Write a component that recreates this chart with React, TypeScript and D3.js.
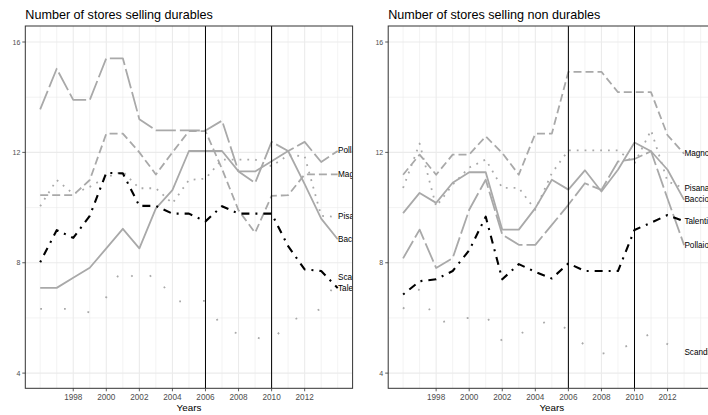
import React from "react";
import * as d3 from "d3";

// ---------- data ----------
const yearsDurables = [1996, 1997, 1998, 1999, 2000, 2001, 2002, 2003, 2004, 2005, 2006, 2007, 2008, 2009, 2010, 2011, 2012, 2013, 2014];
const yearsNonDurables = [1996, 1997, 1998, 1999, 2000, 2001, 2002, 2003, 2004, 2005, 2006, 2007, 2008, 2009, 2010, 2011, 2012, 2013];

const stores = ["Baccio", "Magnolia", "Pisana", "Pollaio", "Scandicci", "Talenti"];

const durablesBaccio = [7.09, 7.09, 7.46, 7.82, 8.52, 9.23, 8.52, 9.97, 10.63, 12.05, 12.05, 12.05, 11.31, 11.31, 11.68, 12.05, 10.85, 9.6, 8.85];
const durablesMagnolia = [10.45, 10.45, 10.45, 11.0, 12.68, 12.68, 12.0, 11.2, 12.0, 12.77, 12.77, 11.4, 9.9, 9.09, 10.42, 10.45, 11.2, 11.2, 11.2];
const durablesPisana = [10.05, 11.0, 10.5, 10.75, 11.1, 11.3, 10.7, 10.7, 10.15, 11.0, 11.05, 11.74, 11.74, 11.74, 11.5, 11.9, 11.86, 9.7, 9.66];
const durablesPollaio = [13.56, 15.03, 13.9, 13.9, 15.41, 15.41, 13.2, 12.8, 12.8, 12.8, 12.79, 13.15, 11.31, 10.89, 12.38, 12.05, 12.38, 11.65, 12.05];
const durablesScandicci = [6.33, 6.33, 6.33, 6.2, 6.75, 7.85, 7.25, 7.65, 6.6, 6.6, 6.62, 5.65, 5.42, 5.3, 5.15, 5.85, 6.1, 6.33, 7.45];
const durablesTalenti = [8.02, 9.18, 8.9, 9.7, 11.26, 11.24, 10.06, 10.06, 9.78, 9.78, 9.5, 10.05, 9.78, 9.78, 9.78, 8.6, 7.76, 7.7, 7.08];

const nonDurablesBaccio = [9.8, 10.53, 10.17, 10.9, 11.28, 11.28, 9.2, 9.2, 9.98, 11.01, 10.65, 11.35, 10.58, 11.37, 12.36, 12.04, 11.37, 10.28];
const nonDurablesMagnolia = [11.19, 11.92, 11.19, 11.92, 11.92, 12.58, 11.98, 11.19, 12.68, 12.68, 14.92, 14.92, 14.92, 14.18, 14.18, 14.18, 12.62, 11.95];
const nonDurablesPisana = [10.71, 12.32, 10.04, 10.83, 11.45, 11.74, 10.71, 10.71, 9.92, 11.25, 12.07, 12.07, 12.07, 12.07, 11.6, 12.8, 10.95, 10.7];
const nonDurablesPollaio = [8.16, 9.2, 7.81, 8.17, 9.92, 11.01, 9.02, 8.65, 8.65, 9.37, 10.1, 10.88, 10.64, 11.67, 11.76, 12.04, 10.32, 8.64];
const nonDurablesScandicci = [6.33, 7.05, 5.8, 5.94, 6.0, 6.1, 5.15, 5.4, 5.7, 5.95, 5.55, 5.0, 4.7, 4.85, 5.1, 5.45, 5.05, 4.75];
const nonDurablesTalenti = [6.85, 7.33, 7.4, 7.7, 8.45, 9.67, 7.4, 7.95, 7.67, 7.43, 7.98, 7.7, 7.7, 7.7, 9.19, 9.45, 9.73, 9.5];

const policyYears = [2006, 2010];
const yMajorTicks = [4, 8, 12, 16];
const yMinorTicks = [6, 10, 14];
const xTickLabels = [1998, 2000, 2002, 2004, 2006, 2008, 2010, 2012];
const xTitle = "Years";
const titles = ["Number of stores selling durables", "Number of stores selling non durables"];

// ---------- styles ----------
const GREY = "#a9a9a9";
const storeStyle: Record<string, { color: string; dash: string | null; width: number }> = {
  Baccio: { color: GREY, dash: null, width: 1.8 },
  Magnolia: { color: GREY, dash: "8 4", width: 1.8 },
  Pisana: { color: GREY, dash: "1.8 6", width: 1.8 },
  Pollaio: { color: GREY, dash: "20 4", width: 1.8 },
  Scandicci: { color: GREY, dash: "1.8 22", width: 1.8 },
  Talenti: { color: "#000000", dash: "2 6 8 6", width: 2.1 },
};

const FONT = "'Liberation Sans', Arial, Helvetica, sans-serif";
const W = 708;
const H = 415;
const PANEL_W = 327.3;
const TOP = 26;
const BOTTOM = 388.3;

const panels = [
  {
    key: "dur",
    title: titles[0],
    x0: 25.3,
    years: yearsDurables,
    values: [durablesBaccio, durablesMagnolia, durablesPisana, durablesPollaio, durablesScandicci, durablesTalenti],
  },
  {
    key: "non",
    title: titles[1],
    x0: 388.2,
    years: yearsNonDurables,
    values: [nonDurablesBaccio, nonDurablesMagnolia, nonDurablesPisana, nonDurablesPollaio, nonDurablesScandicci, nonDurablesTalenti],
  },
];

function Panel({ p }: { p: (typeof panels)[number] }) {
  const x = d3.scaleLinear().domain([1995.1, 2014.9]).range([p.x0, p.x0 + PANEL_W]);
  const y = d3.scaleLinear().domain([3.45, 16.58]).range([BOTTOM, TOP]);
  const clipId = `clip-${p.key}`;
  const line = d3
    .line<[number, number]>()
    .x((d) => x(d[0]))
    .y((d) => y(d[1]));
  const x1 = p.x0 + PANEL_W;
  return (
    <g>
      <defs>
        <clipPath id={clipId}>
          <rect x={p.x0} y={TOP} width={PANEL_W} height={BOTTOM - TOP} />
        </clipPath>
      </defs>
      <rect x={p.x0} y={TOP} width={PANEL_W} height={BOTTOM - TOP} fill="#ffffff" />
      <g clipPath={`url(#${clipId})`}>
        {yMinorTicks.map((t) => (
          <line key={`ym${t}`} x1={p.x0} x2={x1} y1={y(t)} y2={y(t)} stroke="#ebebeb" strokeWidth={0.6} />
        ))}
        {yMajorTicks.map((t) => (
          <line key={`yM${t}`} x1={p.x0} x2={x1} y1={y(t)} y2={y(t)} stroke="#ebebeb" strokeWidth={1.1} />
        ))}
        {yearsDurables.map((t) => (
          <line
            key={`x${t}`}
            x1={x(t)}
            x2={x(t)}
            y1={TOP}
            y2={BOTTOM}
            stroke="#ebebeb"
            strokeWidth={xTickLabels.includes(t) ? 1.1 : 0.6}
          />
        ))}
        {stores.map((s, i) => {
          const st = storeStyle[s];
          const pts: [number, number][] = p.years.map((yr, j) => [yr, p.values[i][j]]);
          return (
            <path
              key={s}
              d={line(pts) || ""}
              fill="none"
              stroke={st.color}
              strokeWidth={st.width}
              strokeDasharray={st.dash || undefined}
              strokeLinejoin="round"
            />
          );
        })}
        {policyYears.map((v) => (
          <line key={`v${v}`} x1={x(v)} x2={x(v)} y1={TOP} y2={BOTTOM} stroke="#000" strokeWidth={1} />
        ))}
        {stores.map((s, i) => {
          const last = p.years.length - 1;
          return (
            <text
              key={`l${s}`}
              x={x(p.years[last]) + 0.3}
              y={y(p.values[i][last])}
              dominantBaseline="central"
              fontSize={8.2}
              fontFamily={FONT}
              fill="#000"
            >
              {s}
            </text>
          );
        })}
      </g>
      <rect x={p.x0} y={TOP} width={PANEL_W} height={BOTTOM - TOP} fill="none" stroke="#333333" strokeWidth={1} />
      {yMajorTicks.map((t) => (
        <g key={`yt${t}`}>
          <line x1={p.x0 - 3} x2={p.x0} y1={y(t)} y2={y(t)} stroke="#333333" strokeWidth={0.8} />
          <text x={p.x0 - 5} y={y(t)} dominantBaseline="central" textAnchor="end" fontSize={7} fontFamily={FONT} fill="#4d4d4d">
            {t}
          </text>
        </g>
      ))}
      {xTickLabels.map((t) => (
        <g key={`xt${t}`}>
          <line x1={x(t)} x2={x(t)} y1={BOTTOM} y2={BOTTOM + 3} stroke="#333333" strokeWidth={0.8} />
          <text x={x(t)} y={BOTTOM + 12} textAnchor="middle" fontSize={8.2} fontFamily={FONT} fill="#4d4d4d">
            {t}
          </text>
        </g>
      ))}
      <text x={p.x0 + PANEL_W / 2} y={BOTTOM + 23} textAnchor="middle" fontSize={9.8} fontFamily={FONT} fill="#000">
        {xTitle}
      </text>
      <text x={p.x0} y={18.8} fontSize={12.6} fontFamily={FONT} fill="#000">
        {p.title}
      </text>
    </g>
  );
}

export default function App() {
  return (
    <svg
      width={W}
      height={H}
      viewBox={`0 0 ${W} ${H}`}
      style={{ position: "absolute", left: 0, top: 0, background: "#ffffff" }}
    >
      <rect x={0} y={0} width={W} height={H} fill="#ffffff" />
      {panels.map((p) => (
        <Panel key={p.key} p={p} />
      ))}
    </svg>
  );
}
